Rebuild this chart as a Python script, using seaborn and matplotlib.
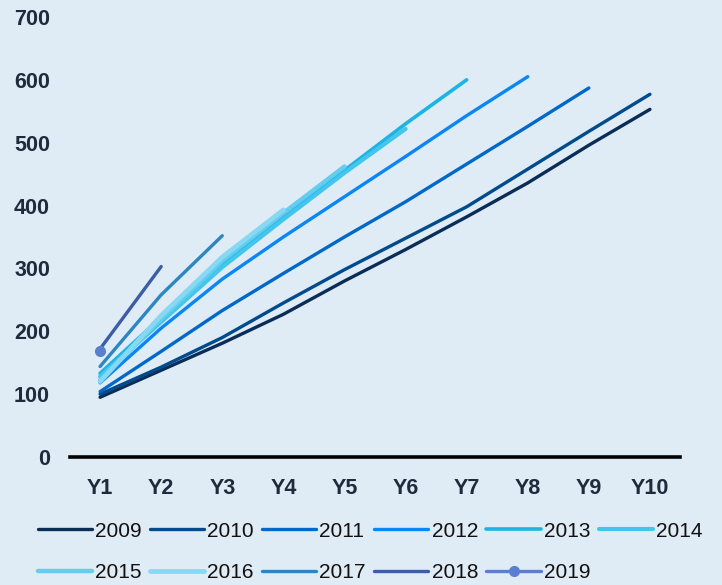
import matplotlib
matplotlib.use("Agg")
import matplotlib.pyplot as plt
import seaborn as sns
import pandas as pd

periods = ["Y1", "Y2", "Y3", "Y4", "Y5", "Y6", "Y7", "Y8", "Y9", "Y10"]

cohorts = ["2009", "2010", "2011", "2012", "2013", "2014",
           "2015", "2016", "2017", "2018", "2019"]

v2009 = [95, 138, 181, 227, 280, 330, 382, 436, 496, 553]
v2010 = [100, 143, 190, 245, 298, 348, 398, 458, 518, 577]
v2011 = [104, 168, 233, 292, 350, 406, 466, 526, 587]
v2012 = [118, 205, 283, 350, 414, 478, 543, 605]
v2013 = [133, 222, 307, 382, 456, 530, 600]
v2014 = [128, 215, 302, 378, 452, 522]
v2015 = [122, 220, 312, 388, 462]
v2016 = [120, 225, 318, 393]
v2017 = [144, 258, 352]
v2018 = [172, 303]
v2019 = [168]

series = [v2009, v2010, v2011, v2012, v2013, v2014,
          v2015, v2016, v2017, v2018, v2019]

colors = ["#0a2d58", "#004b8d", "#0068c9", "#0a86f5", "#1cb4e4", "#44c6ec",
          "#62cdef", "#86d8f3", "#2b86c2", "#3b5da6", "#5a80cb"]
widths = [2.4, 2.4, 2.4, 2.4, 2.6, 3.0, 3.2, 3.4, 2.4, 2.4, 2.4]

rows = []
for name, vals in zip(cohorts, series):
    for p, v in zip(periods, vals):
        rows.append({"cohort": name, "period": p, "value": v})
df = pd.DataFrame(rows)

bg = "#dfebf5"
txt = "#1e2b3a"

sns.set_theme(style="white")
plt.rcParams["font.family"] = ["Liberation Sans", "DejaVu Sans"]

fig = plt.figure(figsize=(7.22, 5.85), dpi=100, facecolor=bg)
ax = fig.add_axes([0.0963, 0.2188, 0.8462, 0.7522])
ax.set_facecolor(bg)

handles = {}
for name, col, lw in zip(cohorts, colors, widths):
    sub = df[df["cohort"] == name]
    marker = "o" if name == "2019" else None
    sns.lineplot(data=sub, x="period", y="value", ax=ax, color=col,
                 linewidth=lw, marker=marker, markersize=8,
                 markeredgewidth=0, solid_capstyle="round", label=name,
                 sort=False)
h, l = ax.get_legend_handles_labels()
for hh, ll in zip(h, l):
    handles[ll] = hh

ax.set_xlim(-0.5, 9.5)
ax.set_ylim(0, 700)
ax.set_yticks(range(0, 701, 100))
ax.set_xlabel("")
ax.set_ylabel("")
for s in ["top", "right", "left"]:
    ax.spines[s].set_visible(False)
ax.spines["bottom"].set_color("black")
ax.spines["bottom"].set_linewidth(2.6)
ax.tick_params(axis="both", length=0, colors=txt, labelsize=15.5)
ax.tick_params(axis="y", pad=14)
ax.tick_params(axis="x", pad=15)
for t in ax.get_xticklabels() + ax.get_yticklabels():
    t.set_fontweight("bold")
    t.set_color(txt)

# two-row legend, read left to right
order = ["2009", "2015", "2010", "2016", "2011", "2017",
         "2012", "2018", "2013", "2019", "2014"]
leg = ax.legend([handles[k] for k in order], order,
                loc="center", ncol=6, frameon=False,
                fontsize=15, handlelength=2.6, handletextpad=0.15,
                columnspacing=0.4, labelspacing=1.08,
                bbox_to_anchor=(370 / 722, 1 - 552 / 585),
                bbox_transform=fig.transFigure)
for t in leg.get_texts():
    t.set_color("#111111")

fig.savefig("out.png", dpi=100, facecolor=bg)
